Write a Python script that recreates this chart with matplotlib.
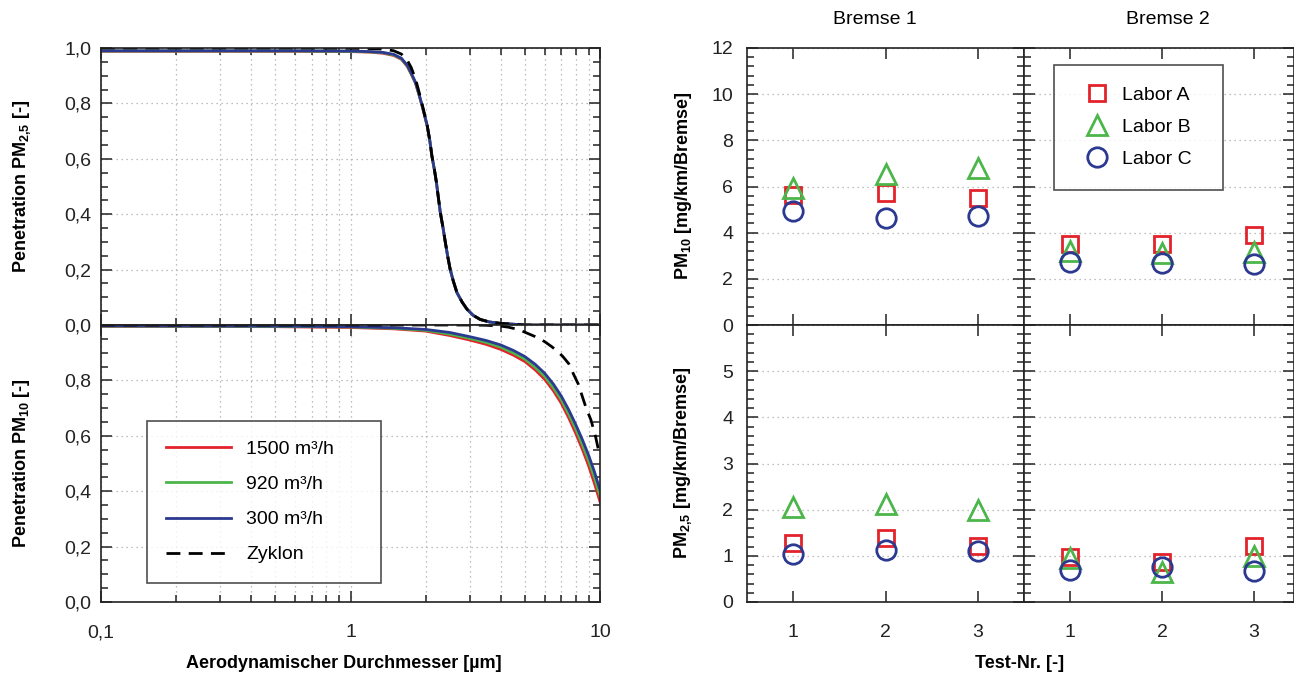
import matplotlib
matplotlib.use("Agg")
import matplotlib.pyplot as plt
from matplotlib.ticker import MultipleLocator, LogLocator, NullFormatter

plt.rcParams['font.family'] = ['Liberation Sans', 'DejaVu Sans']
plt.rcParams['mathtext.fontset'] = 'custom'
plt.rcParams['mathtext.rm'] = 'Liberation Sans'
plt.rcParams['mathtext.bf'] = 'Liberation Sans:bold'

# penetration PM2.5 inlet
d_pm25 = [0.1, 0.3, 0.6, 1.0, 1.2, 1.35, 1.49, 1.6, 1.69, 1.75, 1.82, 1.88, 1.94, 2.03, 2.08, 2.12, 2.17,
          2.21, 2.25, 2.29, 2.35, 2.40, 2.45, 2.51, 2.58, 2.67, 2.8, 2.93, 3.1, 3.31, 3.6, 3.98, 5.0, 10.0]
pm25_1500 = [0.988, 0.988, 0.988, 0.987, 0.985, 0.981, 0.973, 0.959, 0.933, 0.906, 0.874, 0.832, 0.788, 0.718,
             0.663, 0.608, 0.559, 0.514, 0.459, 0.406, 0.349, 0.297, 0.25, 0.2, 0.16, 0.117, 0.083, 0.057,
             0.035, 0.02, 0.011, 0.006, 0.0, 0.0]
pm25_920 = [0.989, 0.989, 0.989, 0.988, 0.986, 0.983, 0.975, 0.961, 0.935, 0.908, 0.876, 0.834, 0.789, 0.719,
            0.664, 0.609, 0.56, 0.515, 0.46, 0.407, 0.35, 0.298, 0.25, 0.2, 0.16, 0.117, 0.083, 0.057,
            0.035, 0.02, 0.011, 0.006, 0.0, 0.0]
pm25_300 = [0.99, 0.99, 0.99, 0.989, 0.987, 0.984, 0.977, 0.963, 0.937, 0.91, 0.877, 0.835, 0.79, 0.72,
            0.665, 0.61, 0.56, 0.515, 0.46, 0.407, 0.35, 0.298, 0.25, 0.2, 0.16, 0.117, 0.083, 0.057,
            0.035, 0.02, 0.011, 0.006, 0.0, 0.0]
pm25_zyklon = [1.0, 1.0, 1.0, 0.999, 0.998, 0.996, 0.99, 0.978, 0.955, 0.93, 0.89, 0.843, 0.795, 0.72,
               0.665, 0.61, 0.56, 0.515, 0.46, 0.407, 0.35, 0.298, 0.25, 0.2, 0.16, 0.117, 0.083, 0.057,
               0.035, 0.02, 0.011, 0.006, 0.0, 0.0]

# penetration PM10 inlet
d_pm10 = [0.1, 0.5, 1.0, 1.5, 2.0, 2.5, 3.0, 3.5, 4.0, 4.5, 5.0, 5.5, 6.0, 6.5, 7.0, 7.5, 8.0, 8.5, 9.0, 9.5, 10.0]
pm10_1500 = [0.995, 0.994, 0.991, 0.986, 0.978, 0.962, 0.946, 0.93, 0.912, 0.891, 0.868, 0.838, 0.804, 0.763,
             0.717, 0.664, 0.608, 0.551, 0.492, 0.428, 0.362]
pm10_920 = [0.996, 0.995, 0.993, 0.988, 0.981, 0.967, 0.952, 0.937, 0.92, 0.899, 0.877, 0.847, 0.815, 0.774,
            0.73, 0.678, 0.624, 0.568, 0.511, 0.449, 0.383]
pm10_300 = [0.997, 0.996, 0.994, 0.99, 0.984, 0.973, 0.958, 0.944, 0.928, 0.908, 0.886, 0.858, 0.826, 0.787,
            0.743, 0.693, 0.64, 0.586, 0.53, 0.47, 0.404]
d_zyk10 = [0.1, 3.0, 3.5, 4.0, 4.3, 4.7, 5.0, 5.5, 6.0, 6.4, 6.8, 7.1, 7.5, 7.8, 8.2, 8.5, 8.8, 9.2, 9.4,
           9.6, 9.8, 10.0]
pm10_zyklon = [1.0, 1.0, 0.999, 0.996, 0.992, 0.984, 0.974, 0.958, 0.94, 0.922, 0.903, 0.886, 0.86, 0.826,
               0.785, 0.741, 0.70, 0.657, 0.627, 0.597, 0.56, 0.525]

flow_labels = ['1500 m³/h', '920 m³/h', '300 m³/h', 'Zyklon']

# emissions per test
tests = [1, 2, 3]
pm10_b1 = {'A': [5.62, 5.72, 5.5], 'B': [5.95, 6.55, 6.8], 'C': [4.94, 4.64, 4.72]}
pm10_b2 = {'A': [3.52, 3.52, 3.9], 'B': [3.2, 3.1, 3.16], 'C': [2.72, 2.68, 2.64]}
pm25_b1 = {'A': [1.28, 1.39, 1.21], 'B': [2.06, 2.12, 1.99], 'C': [1.04, 1.13, 1.1]}
pm25_b2 = {'A': [0.97, 0.87, 1.21], 'B': [0.95, 0.66, 1.0], 'C': [0.69, 0.76, 0.67]}
lab_names = ['Labor A', 'Labor B', 'Labor C']

red, green, blue = '#e3222b', '#4cb64b', '#2b3990'
spine_c = '#222222'
grid_kw = dict(color='#aaaaaa', linestyle=(0, (1, 3)), linewidth=0.9)

W, H = 1294, 674
fig = plt.figure(figsize=(W / 100, H / 100), dpi=100)


def box(x0, y0, x1, y1):
    return [x0 / W, 1 - y1 / H, (x1 - x0) / W, (y1 - y0) / H]


def style(ax):
    for s in ax.spines.values():
        s.set_color(spine_c)
        s.set_linewidth(1.2)
    ax.tick_params(which='both', direction='in', top=True, right=True,
                   colors=spine_c, labelcolor='#222222', labelsize=14, width=1.1)
    ax.tick_params(which='major', length=8)
    ax.tick_params(which='minor', length=5)


# ---------------- left: penetration curves ----------------
ax_t = fig.add_axes(box(101, 48, 600, 325))
ax_b = fig.add_axes(box(101, 325, 600, 602))
for ax in (ax_t, ax_b):
    style(ax)
    ax.set_xscale('log')
    ax.set_xlim(0.1, 10)
    ax.set_ylim(0, 1)
    ax.xaxis.set_major_locator(LogLocator(base=10))
    ax.xaxis.set_minor_locator(LogLocator(base=10, subs=range(2, 10)))
    ax.xaxis.set_minor_formatter(NullFormatter())
    ax.yaxis.set_minor_locator(MultipleLocator(0.05))
    ax.grid(True, which='both', axis='x', **grid_kw)
    ax.grid(True, which='major', axis='y', **grid_kw)
    ax.tick_params(axis='y', pad=7)
    ax.tick_params(axis='x', pad=16)

ax_t.set_yticks([0, 0.2, 0.4, 0.6, 0.8, 1.0], ['0,0', '0,2', '0,4', '0,6', '0,8', '1,0'])
ax_b.set_yticks([0, 0.2, 0.4, 0.6, 0.8, 1.0], ['0,0', '0,2', '0,4', '0,6', '0,8', ''])
ax_t.set_xticks([0.1, 1, 10], ['', '', ''])
ax_b.set_xticks([0.1, 1, 10], ['0,1', '1', '10'])

lw = 2.0
ax_t.plot(d_pm25, pm25_1500, color=red, lw=lw)
ax_t.plot(d_pm25, pm25_920, color=green, lw=lw)
ax_t.plot(d_pm25, pm25_300, color=blue, lw=lw)
ax_t.plot(d_pm25, pm25_zyklon, color='black', lw=lw, ls=(0, (5, 3)))

l1, = ax_b.plot(d_pm10, pm10_1500, color=red, lw=lw)
l2, = ax_b.plot(d_pm10, pm10_920, color=green, lw=lw)
l3, = ax_b.plot(d_pm10, pm10_300, color=blue, lw=lw)
l4, = ax_b.plot(d_zyk10, pm10_zyklon, color='black', lw=lw, ls=(0, (5, 3)))
leg = ax_b.legend([l1, l2, l3, l4], flow_labels, loc='lower left', mode='expand',
                  bbox_to_anchor=(0.092, 0.069, 0.469, 0.6), fontsize=14, frameon=True,
                  fancybox=False, edgecolor='#222222', handlelength=3.3, handletextpad=0.8,
                  labelspacing=0.9, borderpad=1.0, borderaxespad=0)
leg.get_frame().set_linewidth(1.2)

fig.text(22 / W, 1 - 186 / H, r'Penetration PM$_{\mathbf{2{,}5}}$ [-]', rotation=90,
         ha='center', va='center', fontsize=13, fontweight='bold')
fig.text(22 / W, 1 - 463 / H, r'Penetration PM$_{\mathbf{10}}$ [-]', rotation=90,
         ha='center', va='center', fontsize=13, fontweight='bold')
fig.text(344 / W, 1 - 663 / H, 'Aerodynamischer Durchmesser [µm]',
         ha='center', va='center', fontsize=13, fontweight='bold')

# ---------------- right: emissions ----------------
x_right = 3 + (1294 - 1254) / 92.0
axes = {
    ('pm10', 1): fig.add_axes(box(747, 48, 1024, 325)),
    ('pm10', 2): fig.add_axes(box(1024, 48, 1294, 325)),
    ('pm25', 1): fig.add_axes(box(747, 325, 1024, 602)),
    ('pm25', 2): fig.add_axes(box(1024, 325, 1294, 602)),
}
data = {('pm10', 1): pm10_b1, ('pm10', 2): pm10_b2,
        ('pm25', 1): pm25_b1, ('pm25', 2): pm25_b2}
mk = {'A': ('s', red, 12), 'B': ('^', green, 14.5), 'C': ('o', blue, 14)}

for key, ax in axes.items():
    row, col = key
    style(ax)
    ax.set_xlim(0.5, 3.5 if col == 1 else x_right)
    ax.set_xticks(tests)
    if row == 'pm10':
        ax.set_ylim(0, 12)
        ax.set_yticks(range(0, 13, 2))
        ax.yaxis.set_minor_locator(MultipleLocator(0.4))
        ax.set_xticklabels([])
    else:
        ax.set_ylim(0, 6)
        ax.set_yticks(range(0, 7), ['0', '1', '2', '3', '4', '5', ''])
        ax.yaxis.set_minor_locator(MultipleLocator(0.2))
        ax.set_xticklabels([str(t) for t in tests])
    if col == 2:
        ax.set_yticklabels([])
    ax.tick_params(axis='y', pad=10)
    ax.tick_params(axis='x', pad=16)
    ax.grid(True, which='major', axis='y', **grid_kw)
    handles = []
    for lab in ['A', 'B', 'C']:
        m, c, s = mk[lab]
        h, = ax.plot(tests, data[key][lab], ls='none', marker=m, ms=s,
                     mfc='none', mec=c, mew=2.0, clip_on=False)
        handles.append(h)
    if key == ('pm10', 2):
        lg = ax.legend(handles, lab_names, loc='upper left', mode='expand',
                       bbox_to_anchor=(0.111, 0.939 - 0.45, 0.626, 0.45),
                       fontsize=14, frameon=True, fancybox=False, edgecolor='#222222',
                       handlelength=2.2, handletextpad=0.2, labelspacing=0.75,
                       borderpad=1.1, borderaxespad=0, numpoints=1)
        lg.get_frame().set_linewidth(1.2)

fig.text(683 / W, 1 - 186 / H, r'PM$_{\mathbf{10}}$ [mg/km/Bremse]', rotation=90,
         ha='center', va='center', fontsize=13, fontweight='bold')
fig.text(683 / W, 1 - 463 / H, r'PM$_{\mathbf{2{,}5}}$ [mg/km/Bremse]', rotation=90,
         ha='center', va='center', fontsize=13, fontweight='bold')
fig.text(1020 / W, 1 - 663 / H, 'Test-Nr. [-]', ha='center', va='center',
         fontsize=13, fontweight='bold')
fig.text(875 / W, 1 - 20 / H, 'Bremse 1', ha='center', va='center', fontsize=14)
fig.text(1168 / W, 1 - 20 / H, 'Bremse 2', ha='center', va='center', fontsize=14)

fig.savefig('out.png', dpi=100)
